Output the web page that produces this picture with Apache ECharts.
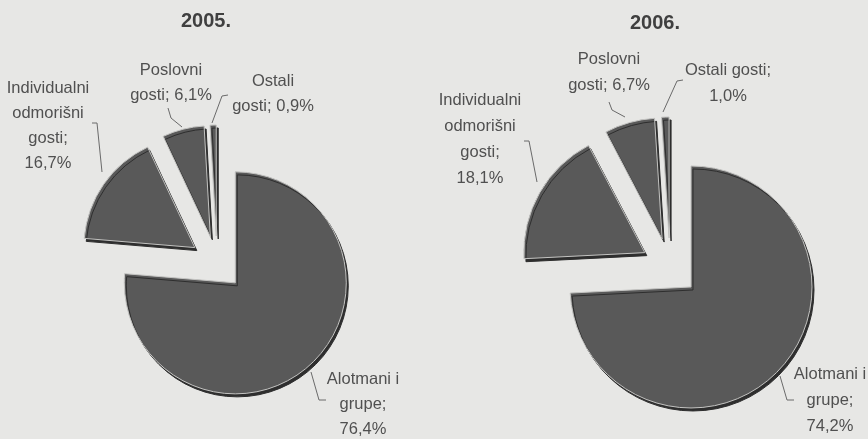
<!DOCTYPE html>
<html>
<head>
<meta charset="utf-8">
<script src="https://cdn.jsdelivr.net/npm/echarts@6/dist/echarts.min.js"></script>
<style>
  html, body { margin: 0; padding: 0; background: #e7e7e5; }
  #chart { width: 868px; height: 439px; }
</style>
</head>
<body>
<div id="chart"></div>
<script>
// Guest structure by segment, share in %
const categories = ['Alotmani i grupe', 'Individualni odmorišni gosti', 'Poslovni gosti', 'Ostali gosti'];
const years = ['2005.', '2006.'];
const values2005 = [76.4, 16.7, 6.1, 0.9];
const values2006 = [74.2, 18.1, 6.7, 1.0];
// Label wording per slice, {v} is replaced by the formatted value
const labels2005 = ['Alotmani i\ngrupe;\n{v}', 'Individualni\nodmorišni\ngosti;\n{v}', 'Poslovni\ngosti; {v}', 'Ostali\ngosti; {v}'];
const labels2006 = ['Alotmani i\ngrupe;\n{v}', 'Individualni\nodmorišni\ngosti;\n{v}', 'Poslovni\ngosti; {v}', 'Ostali gosti;\n{v}'];

const FONT = '"Liberation Sans", Arial, sans-serif';
const SLICE = '#595959';

function fmt(v) { return v.toFixed(1).replace('.', ',') + '%'; }

// Where each slice's label sits and how its leader line runs
const labelPlacement = [
  [
    { x: 363, y: 404, line: [[311, 372], [319, 400], [326, 400]] },
    { x: 48,  y: 126, line: [[92, 123], [97, 123], [102, 172]] },
    { x: 171, y: 83,  line: [[168, 108], [171, 118], [182, 127]] },
    { x: 273, y: 94,  line: [[228, 95], [222, 96], [212, 123]] }
  ],
  [
    { x: 830, y: 400, line: [[780, 376], [787, 400], [794, 400]] },
    { x: 480, y: 139, line: [[524, 141], [529, 141], [537, 182]] },
    { x: 609, y: 72,  line: [[609, 102], [612, 110], [625, 117]] },
    { x: 728, y: 83,  line: [[683, 80], [677, 81], [663, 112]] }
  ]
];

// Exploded slices, drawn without labels
function slicesSeries(values, center, radius, offset) {
  const style = {
    color: SLICE,
    borderColor: '#c4c4c2',
    borderWidth: 1,
    shadowColor: '#2e2e2e',
    shadowBlur: 0,
    shadowOffsetX: 2,
    shadowOffsetY: 3
  };
  return {
    type: 'pie',
    center: center,
    radius: radius,
    startAngle: 90,
    clockwise: true,
    selectedMode: 'multiple',
    selectedOffset: offset,
    animation: false,
    silent: true,
    data: values.map((v, i) => ({ name: categories[i], value: v, selected: true })),
    itemStyle: style,
    select: { itemStyle: style },
    emphasis: { disabled: true },
    label: { show: false },
    labelLine: { show: false }
  };
}

// Same shares again, unfilled, carrying the value labels and leader lines
function labelSeries(values, labels, center, radius, lineHeight, chartIndex) {
  const clear = { color: 'rgba(0,0,0,0)', borderWidth: 0, shadowBlur: 0, shadowColor: 'rgba(0,0,0,0)' };
  return {
    type: 'pie',
    center: center,
    radius: radius,
    startAngle: 90,
    clockwise: true,
    selectedMode: false,
    avoidLabelOverlap: false,
    animation: false,
    silent: true,
    data: values.map((v, i) => ({ name: categories[i], value: v })),
    itemStyle: clear,
    emphasis: { disabled: true },
    label: {
      show: true,
      position: 'outside',
      color: '#505050',
      fontFamily: FONT,
      fontSize: 16.5,
      lineHeight: lineHeight,
      align: 'center',
      formatter: p => labels[p.dataIndex].replace('{v}', fmt(p.value))
    },
    labelLine: { show: true, lineStyle: { color: '#6a6a6a', width: 1 } },
    labelLayout: p => {
      const pl = labelPlacement[chartIndex][p.dataIndex];
      return { x: pl.x, y: pl.y, align: 'center', verticalAlign: 'middle', labelLinePoints: pl.line };
    }
  };
}

const titleStyle = { fontFamily: FONT, fontSize: 20, fontWeight: 'bold', color: '#404040' };

const chart = echarts.init(document.getElementById('chart'), null, { renderer: 'canvas' });
chart.setOption({
  backgroundColor: '#e7e7e5',
  title: [
    { text: years[0], left: 206, top: 11, padding: 0, textAlign: 'center', textStyle: titleStyle },
    { text: years[1], left: 655, top: 13, padding: 0, textAlign: 'center', textStyle: titleStyle }
  ],
  series: [
    slicesSeries(values2005, [217, 263], 111, 27),
    slicesSeries(values2006, [670, 267], 121, 29),
    labelSeries(values2005, labels2005, [217, 263], 111, 25, 0),
    labelSeries(values2006, labels2006, [670, 267], 121, 26, 1)
  ]
});
</script>
</body>
</html>
